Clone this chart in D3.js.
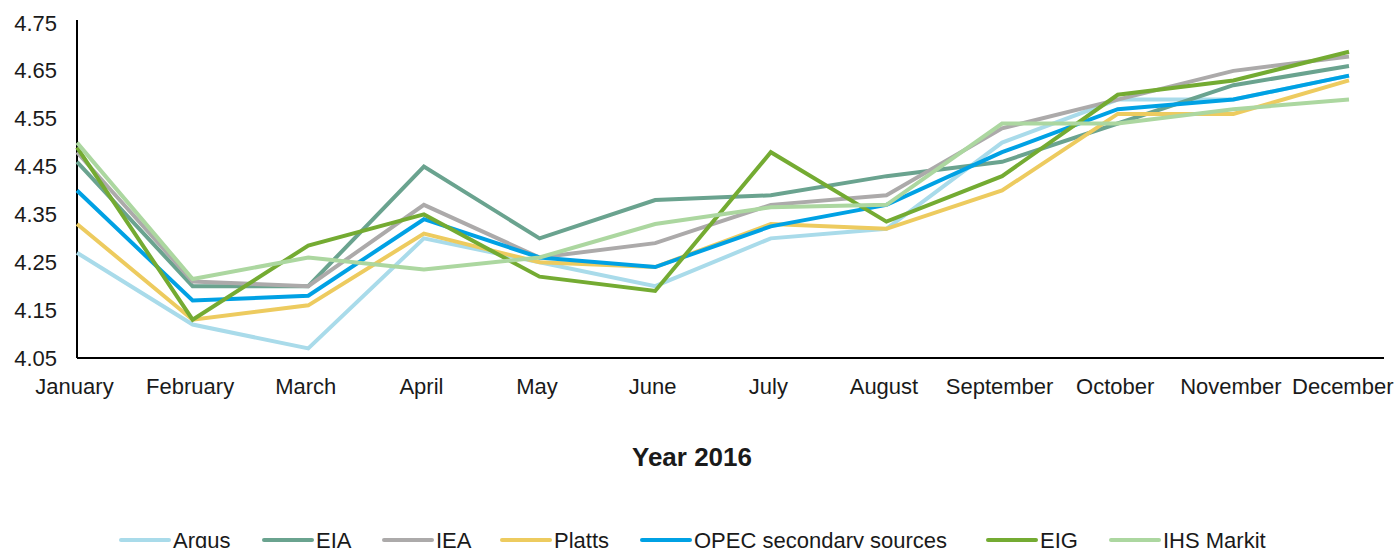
<!DOCTYPE html>
<html>
<head>
<meta charset="utf-8">
<script src="https://cdn.jsdelivr.net/npm/d3@7"></script>
<style>
  body { margin: 0; background: #fff; }
  text { font-family: "Liberation Sans", Arial, sans-serif; fill: #1a1a1a; }
</style>
</head>
<body>
<script>
var months = ["January", "February", "March", "April", "May", "June", "July",
    "August", "September", "October", "November", "December"];
var yTicks = [4.05, 4.15, 4.25, 4.35, 4.45, 4.55, 4.65, 4.75];

var argus = [4.27, 4.12, 4.07, 4.30, 4.25, 4.20, 4.30, 4.32, 4.50, 4.59, 4.59, 4.64];
var eia   = [4.46, 4.20, 4.20, 4.45, 4.30, 4.38, 4.39, 4.43, 4.46, 4.54, 4.62, 4.66];
var iea   = [4.48, 4.21, 4.20, 4.37, 4.26, 4.29, 4.37, 4.39, 4.53, 4.59, 4.65, 4.68];
var platts = [4.33, 4.13, 4.16, 4.31, 4.25, 4.24, 4.33, 4.32, 4.40, 4.56, 4.56, 4.63];
var opec  = [4.40, 4.17, 4.18, 4.34, 4.26, 4.24, 4.325, 4.37, 4.48, 4.57, 4.59, 4.64];
var eig   = [4.49, 4.13, 4.285, 4.35, 4.22, 4.19, 4.48, 4.335, 4.43, 4.60, 4.63, 4.69];
var ihs   = [4.50, 4.215, 4.26, 4.235, 4.26, 4.33, 4.365, 4.37, 4.54, 4.54, 4.57, 4.59];

var seriesNames = ["Argus", "EIA", "IEA", "Platts", "OPEC secondary sources", "EIG", "IHS Markit"];
var seriesValues = [argus, eia, iea, platts, opec, eig, ihs];
var seriesColors = ["#a9dbea", "#6aa38f", "#acaaaa", "#edcb5f", "#00a1e4", "#74ab32", "#acd7a0"];

var width = 1397, height = 548;
var svg = d3.select("body").append("svg")
    .attr("width", width)
    .attr("height", height);

var x = d3.scalePoint().domain(months).range([77, 1349]);
var y = d3.scaleLinear().domain([4.05, 4.75]).range([358, 23]);

// y axis: line only, labels to the left
var yAxis = svg.append("g")
    .attr("transform", "translate(77,0)")
    .call(d3.axisLeft(y).tickValues(yTicks).tickSize(0).tickPadding(20)
        .tickFormat(d3.format(".2f")));
yAxis.select(".domain").attr("d", "M0,20V358").attr("stroke", "#000").attr("stroke-width", 2);
yAxis.selectAll("text").style("font-size", "22px").style("font-family", "Liberation Sans, Arial, sans-serif")
    .attr("fill", "#1a1a1a");

var xAxis = svg.append("g")
    .attr("transform", "translate(0,358)")
    .call(d3.axisBottom(x).tickSize(0).tickPadding(20));
xAxis.select(".domain").attr("d", "M77,0H1384").attr("stroke", "#000").attr("stroke-width", 2);
xAxis.selectAll("text").style("font-size", "22px").style("font-family", "Liberation Sans, Arial, sans-serif")
    .attr("fill", "#1a1a1a")
    .attr("x", function(d) {
        // labels sit a little left of the point; keep the last one inside the page
        var half = this.getComputedTextLength() / 2;
        var dx = -3;
        if (x(d) + dx + half > width - 4) dx = width - 4 - half - x(d);
        return dx;
    });

var line = d3.line()
    .x(function(d, i) { return x(months[i]); })
    .y(function(d) { return y(d); });

svg.selectAll("path.series")
    .data(seriesValues)
    .enter()
    .append("path")
    .attr("class", "series")
    .attr("fill", "none")
    .attr("stroke", function(d, i) { return seriesColors[i]; })
    .attr("stroke-width", 4)
    .attr("stroke-linejoin", "miter")
    .attr("d", line);

svg.append("text")
    .attr("x", 692)
    .attr("y", 466)
    .attr("text-anchor", "middle")
    .style("font-size", "26px")
    .style("font-weight", "bold")
    .text("Year 2016");

// legend
var legendX = [119, 262, 382, 500, 640, 986, 1109];
var legend = svg.selectAll("g.legend")
    .data(seriesNames)
    .enter()
    .append("g")
    .attr("class", "legend")
    .attr("transform", function(d, i) { return "translate(" + legendX[i] + ",540)"; });
legend.append("line")
    .attr("x1", 2).attr("x2", 50)
    .attr("stroke", function(d, i) { return seriesColors[i]; })
    .attr("stroke-width", 4)
    .attr("stroke-linecap", "round");
legend.append("text")
    .attr("x", 54)
    .attr("y", 8)
    .style("font-size", "22px")
    .text(function(d) { return d; });
</script>
</body>
</html>
